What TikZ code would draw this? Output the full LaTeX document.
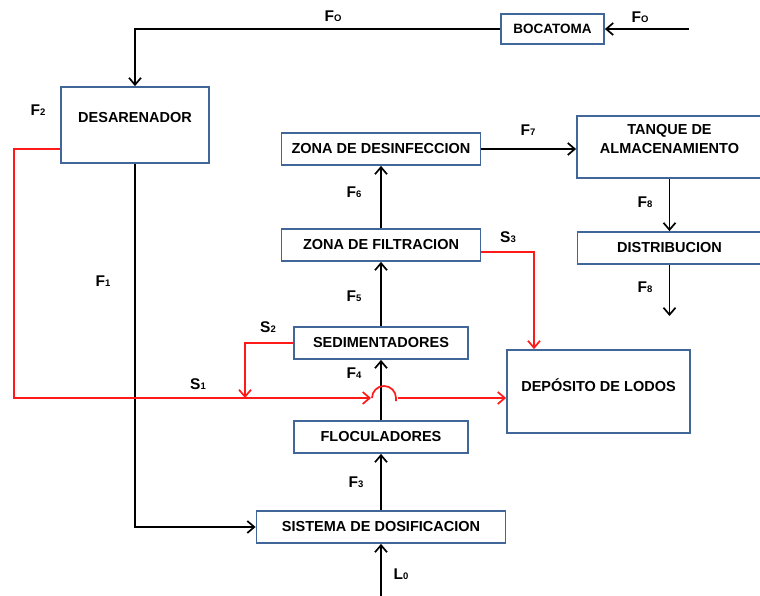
\documentclass[tikz,border=0pt]{standalone}
\usepackage{fontspec}
\setmainfont{Liberation Sans}
\usetikzlibrary{arrows.meta}
\definecolor{boxblue}{HTML}{41679A}
\definecolor{flowred}{HTML}{FF1A1A}
\newcommand\flab[2]{#1{\fontsize{9.5}{10}\selectfont #2}}
\begin{document}
\begin{tikzpicture}[x=1pt,y=-1pt,
  box/.style={draw=boxblue,line width=1.8pt,fill=white,inner sep=0pt,align=center,
    font=\fontsize{14.5}{19}\selectfont\bfseries},
  txt/.style={inner sep=0pt,align=center,font=\fontsize{14.5}{19}\selectfont\bfseries},
  lbl/.style={inner sep=0pt,font=\fontsize{15.5}{17}\selectfont\bfseries},
  flow/.style={line width=1.7pt,-{Straight Barb[length=7pt,width=12pt]}},
  sludge/.style={draw=flowred,line width=1.7pt},
  sludgearrow/.style={sludge,-{Straight Barb[length=7pt,width=12pt]}}
]
\useasboundingbox (0,0) rectangle (760,596);

% boxes
\node[box,minimum width=103pt,minimum height=30pt,font=\fontsize{13.5}{15}\selectfont\bfseries] (boca) at (552.5,29) {BOCATOMA};
\node[box,minimum width=148pt,minimum height=76pt] (desa) at (135,125) {};
\node[txt] (desaT) at (135,118) {DESARENADOR};
\node[box,minimum width=199pt,minimum height=32pt] (desi) at (381,149) {ZONA DE DESINFECCION};
\node[box,minimum width=185pt,minimum height=62pt] (tanq) at (669.5,147) {};
\node[txt] (tanqT) at (669.5,139.5) {TANQUE DE\\ALMACENAMIENTO};
\node[box,minimum width=184pt,minimum height=32pt] (dist) at (669.5,248) {DISTRIBUCION};
\node[box,minimum width=199pt,minimum height=32pt] (filt) at (381,245) {ZONA DE FILTRACION};
\node[box,minimum width=174pt,minimum height=32pt] (sedi) at (381,343) {SEDIMENTADORES};
\node[box,minimum width=183pt,minimum height=83pt] (depo) at (598.5,391.5) {};
\node[txt] (depoT) at (598.5,385) {DEPÓSITO DE LODOS};
\node[box,minimum width=174pt,minimum height=32pt] (floc) at (381,437) {FLOCULADORES};
\node[box,minimum width=249pt,minimum height=32pt] (sist) at (381,527) {SISTEMA DE DOSIFICACION};

% free ends
\coordinate (inF0) at (689,29);
\coordinate (inL0) at (381,597);
\coordinate (outF8) at (669.5,316);
\coordinate (s1corner) at (14,149);
\coordinate (s1low) at (14,398);
\coordinate (bumpL) at (371,398);
\coordinate (bumpS) at (372,398);
\coordinate (bumpR) at (398,398);
\coordinate (s2x) at (245,398);
\coordinate (s3x) at (534,252);

% black flows
\draw[flow] (inF0) -- (boca.east);
\draw[flow] (boca.west) -| (desa.north);
\draw[flow] (desa.south) |- (sist.west);
\draw[flow] (inL0) -- (sist.south);
\draw[flow] (sist.north) -- (floc.south);
\draw[flow] (floc.north) -- (sedi.south);
\draw[flow] (sedi.north) -- (filt.south);
\draw[flow] (filt.north) -- (desi.south);
\draw[flow] (desi.east) -- (desi.east -| tanq.west);
\draw[flow] (tanq.south) -- (tanq.south |- dist.north);
\draw[flow] (dist.south) -- (outF8);

% red flows
\draw[sludgearrow] ([yshift=-24pt]desa.west) -- (s1corner) -- (s1low) -- (bumpL);
\draw[sludge] (bumpS) arc[start angle=180,end angle=0,radius=12pt] -- ++(0,3);
\draw[sludgearrow] (bumpR) -- (bumpR -| depo.west);
\draw[sludgearrow] (sedi.west) -| (s2x);
\draw[sludgearrow] ([yshift=-7pt]filt.east) -- (s3x) -- (s3x |- depo.north);

% labels
\node[lbl] (lF0a) at (333,16) {\flab{F}{O}};
\node[lbl] (lF0b) at (640,17) {\flab{F}{O}};
\node[lbl] (lF2) at (38,110) {\flab{F}{2}};
\node[lbl] (lF1) at (103,281) {\flab{F}{1}};
\node[lbl] (lS1) at (198,384) {\flab{S}{1}};
\node[lbl] (lS2) at (268,327) {\flab{S}{2}};
\node[lbl] (lF4) at (354,373) {\flab{F}{4}};
\node[lbl] (lF3) at (356,482) {\flab{F}{3}};
\node[lbl] (lL0) at (401,574) {\flab{L}{0}};
\node[lbl] (lF5) at (354,296) {\flab{F}{5}};
\node[lbl] (lF6) at (354,192) {\flab{F}{6}};
\node[lbl] (lS3) at (508,237) {\flab{S}{3}};
\node[lbl] (lF7) at (528,130) {\flab{F}{7}};
\node[lbl] (lF8a) at (645,202) {\flab{F}{8}};
\node[lbl] (lF8b) at (645,287) {\flab{F}{8}};
\end{tikzpicture}
\end{document}
